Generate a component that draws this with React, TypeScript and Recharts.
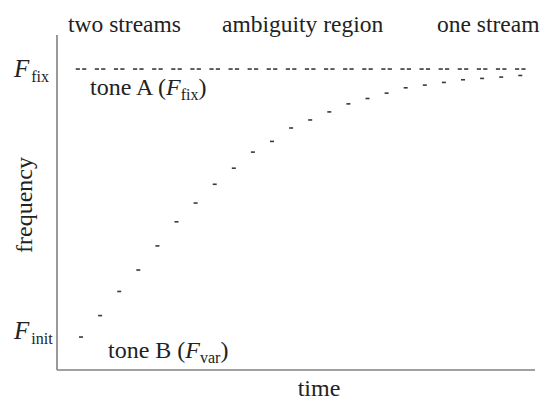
import React from 'react';
import { ScatterChart, Scatter, XAxis, YAxis } from 'recharts';

const timeSteps = [0, 1, 2, 3, 4, 5, 6, 7, 8, 9, 10, 11, 12, 13, 14, 15, 16, 17, 18, 19, 20, 21, 22, 23];
const toneAFreq = [1, 1, 1, 1, 1, 1, 1, 1, 1, 1, 1, 1, 1, 1, 1, 1, 1, 1, 1, 1, 1, 1, 1, 1];
const toneBFreq = [0.0, 0.08, 0.17, 0.25, 0.34, 0.43, 0.5, 0.57, 0.63, 0.69, 0.73, 0.78, 0.81, 0.84, 0.87, 0.89, 0.91, 0.93, 0.94, 0.95, 0.96, 0.965, 0.97, 0.976];
const regionLabels = ['two streams', 'ambiguity region', 'one stream'];

const toneA = timeSteps.map((t, i) => ({ t, f: toneAFreq[i] }));
const toneB = timeSteps.map((t, i) => ({ t, f: toneBFreq[i] }));

const INK = '#3a3a3a';
const FONT = '"Liberation Serif", "DejaVu Serif", serif';

const PairDash = (props: any) => {
  const { cx, cy } = props;
  return (
    <g>
      <rect x={cx - 5.3} y={cy - 0.8} width={4.2} height={1.6} fill={INK} />
      <rect x={cx + 1.1} y={cy - 0.8} width={4.2} height={1.6} fill={INK} />
    </g>
  );
};

const SingleDash = (props: any) => {
  const { cx, cy } = props;
  return <rect x={cx - 2} y={cy - 0.8} width={4} height={1.6} fill={INK} />;
};

export default function App() {
  return (
    <div style={{ position: 'absolute', left: 0, top: 0, width: 542, height: 401, background: '#fff' }}>
      <ScatterChart width={542} height={401} margin={{ top: 35, right: 7, bottom: 30, left: 56 }}>
        <XAxis
          dataKey="t"
          type="number"
          domain={[-1.257, 23.77]}
          height={1}
          tick={false}
          tickLine={false}
          axisLine={{ stroke: '#808080', strokeWidth: 1.6 }}
        />
        <YAxis
          dataKey="f"
          type="number"
          domain={[-0.123, 1.127]}
          width={1}
          tick={false}
          tickLine={false}
          axisLine={{ stroke: '#808080', strokeWidth: 1.6 }}
        />
        <Scatter data={toneA} shape={PairDash} isAnimationActive={false} />
        <Scatter data={toneB} shape={SingleDash} isAnimationActive={false} />
      </ScatterChart>
      <svg
        width={542}
        height={401}
        style={{ position: 'absolute', left: 0, top: 0, pointerEvents: 'none' }}
        fontFamily={FONT}
        fill="#222"
      >
        <text x={68} y={32} fontSize={23.5}>{regionLabels[0]}</text>
        <text x={222} y={32} fontSize={23.5}>{regionLabels[1]}</text>
        <text x={437} y={32} fontSize={23.5}>{regionLabels[2]}</text>
        <text x={14} y={77} fontSize={25}>
          <tspan fontStyle="italic">F</tspan>
          <tspan fontSize={16} dy={5} dx={2}>fix</tspan>
        </text>
        <text x={14} y={339} fontSize={25}>
          <tspan fontStyle="italic">F</tspan>
          <tspan fontSize={16} dy={5} dx={2}>init</tspan>
        </text>
        <text x={90} y={95} fontSize={24}>
          tone A (<tspan fontStyle="italic">F</tspan>
          <tspan fontSize={16} dy={5}>fix</tspan>
          <tspan dy={-5}>)</tspan>
        </text>
        <text x={108} y={358} fontSize={24}>
          tone B (<tspan fontStyle="italic">F</tspan>
          <tspan fontSize={16} dy={5}>var</tspan>
          <tspan dy={-5}>)</tspan>
        </text>
        <text x={319} y={396} fontSize={24} textAnchor="middle">time</text>
        <text x={32} y={205} fontSize={24} textAnchor="middle" transform="rotate(-90 32 205)">frequency</text>
      </svg>
    </div>
  );
}
